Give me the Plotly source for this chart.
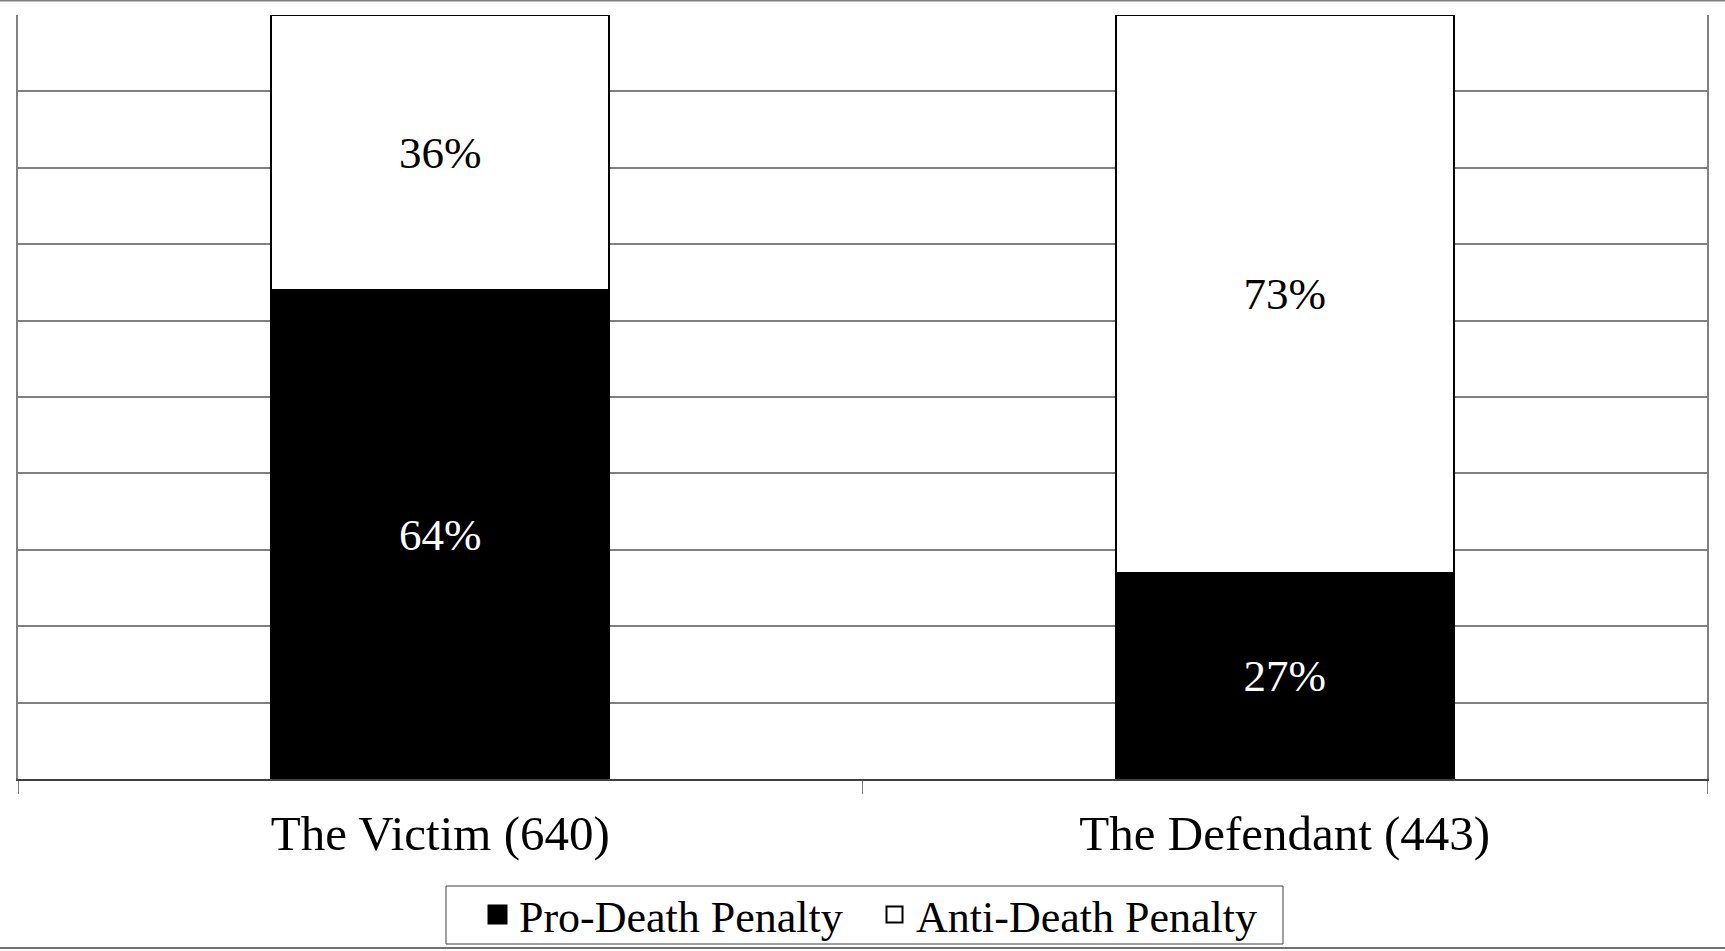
import plotly.graph_objects as go

categories = ["The Victim (640)", "The Defendant (443)"]
pro_death = [0.64, 0.27]
anti_death = [0.36, 0.73]
series_names = ["Pro-Death Penalty", "Anti-Death Penalty"]
series_colors = ["black", "white"]
label_colors = ["white", "black"]
legend_line_widths = [4, 2]

FONT = "Liberation Serif"
W, H = 1725, 951
ML, MR, MT, MB = 18, 18, 15, 172
PH = H - MT - MB
PW = W - ML - MR

fig = go.Figure()
for vals, name, col, lcol in zip([pro_death, anti_death], series_names, series_colors, label_colors):
    fig.add_trace(go.Bar(
        x=categories, y=vals, name=name, showlegend=False,
        marker=dict(color=col, line=dict(color="black", width=2)),
        texttemplate="%{y:.0%}", textposition="inside", insidetextanchor="middle",
        textfont=dict(family=FONT, size=45, color=lcol), constraintext="none",
        textangle=0,
    ))
# legend entries with larger square symbols
for name, col, lw in zip(series_names, series_colors, legend_line_widths):
    fig.add_trace(go.Scatter(
        x=[None], y=[None], mode="markers", name=name, showlegend=True,
        marker=dict(symbol="square", size=16, color=col, line=dict(color="black", width=lw)),
    ))

def py(pixel_y):
    return (H - MB - pixel_y) / PH

def px(pixel_x):
    return (pixel_x - ML) / PW

fig.update_layout(
    width=W, height=H,
    margin=dict(l=ML, r=MR, t=MT, b=MB, autoexpand=False),
    barmode="stack", bargap=0.6,
    paper_bgcolor="white", plot_bgcolor="white",
    font=dict(family=FONT, color="black"),
    showlegend=True,
    legend=dict(
        orientation="h", x=px(476), xanchor="left", y=py(915), yanchor="middle",
        borderwidth=0, bgcolor="rgba(0,0,0,0)",
        font=dict(family=FONT, size=44, color="black"),
        itemsizing="trace", traceorder="normal", itemwidth=33,
        entrywidth=349, tracegroupgap=0,
    ),
    xaxis=dict(
        type="category", tickson="boundaries", ticks="outside", ticklen=13,
        tickcolor="#808080", tickwidth=1,
        showline=True, linecolor="#404040", linewidth=1.5,
        showgrid=False, ticklabelstandoff=10,
        tickfont=dict(family=FONT, size=49, color="black"),
    ),
    yaxis=dict(
        range=[0, 1], dtick=0.1, showticklabels=False, ticks="",
        showgrid=True, gridcolor="#808080", gridwidth=1.5,
        showline=True, mirror=True, linecolor="#808080", linewidth=1.5,
        zeroline=False,
    ),
    shapes=[
        dict(type="line", xref="paper", yref="paper", x0=px(0), x1=px(W),
             y0=py(0.75), y1=py(0.75), line=dict(color="#808080", width=1.5)),
        dict(type="line", xref="paper", yref="paper", x0=px(0), x1=px(W),
             y0=py(948), y1=py(948), line=dict(color="#404040", width=1.5)),
        dict(type="rect", xref="paper", yref="paper", x0=px(446), x1=px(1283),
             y0=py(944), y1=py(886), line=dict(color="#404040", width=1), fillcolor="rgba(0,0,0,0)",
             layer="below"),
    ],
)

fig.write_html("out.html", config={"displayModeBar": False},
               post_script="document.body.style.margin='0px';")
